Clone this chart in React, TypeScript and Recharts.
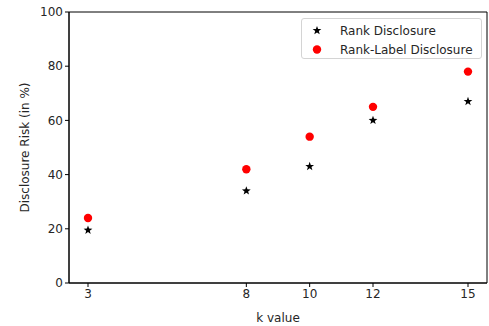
import React from "react";
import {
  ScatterChart,
  Scatter,
  XAxis,
  YAxis,
  ReferenceArea,
  Legend,
} from "recharts";

// k values on the x axis
const kValues = [3, 8, 10, 12, 15];
// Disclosure risk (%) per k
const rankDisclosure = [19.5, 34, 43, 60, 67];
const rankLabelDisclosure = [24, 42, 54, 65, 78];

const xTicks = [3, 8, 10, 12, 15];
const yTicks = [0, 20, 40, 60, 80, 100];

const rankData = kValues.map((k, i) => ({ k, risk: rankDisclosure[i] }));
const rankLabelData = kValues.map((k, i) => ({ k, risk: rankLabelDisclosure[i] }));

const FONT = "'DejaVu Sans', sans-serif";
const TEXT = "#262626";
const FS = 12;

function starPath(cx: number, cy: number, outer: number, inner: number) {
  const pts: string[] = [];
  for (let i = 0; i < 10; i++) {
    const r = i % 2 === 0 ? outer : inner;
    const a = -Math.PI / 2 + (i * Math.PI) / 5;
    pts.push(`${(cx + r * Math.cos(a)).toFixed(2)},${(cy + r * Math.sin(a)).toFixed(2)}`);
  }
  return `M${pts.join("L")}Z`;
}

const StarShape = (props: any) => {
  const { cx, cy } = props;
  return <path d={starPath(cx, cy, 4.6, 1.9)} fill="#000" />;
};

const DotShape = (props: any) => {
  const { cx, cy } = props;
  return <circle cx={cx} cy={cy} r={4.2} fill="#ff0000" />;
};

const LegendBox = () => (
  <div
    style={{
      width: 181,
      height: 41,
      boxSizing: "border-box",
      border: "1px solid #d4d4d4",
      borderRadius: 3,
      background: "rgba(255,255,255,0.8)",
      fontFamily: FONT,
      fontSize: FS,
      color: TEXT,
      padding: "2px 0 0 0",
      textAlign: "left",
    }}
  >
    <div style={{ display: "flex", alignItems: "center", height: 19 }}>
      <svg width={38} height={19}>
        <path d={starPath(15, 9.5, 4.6, 1.9)} fill="#000" />
      </svg>
      <span>Rank Disclosure</span>
    </div>
    <div style={{ display: "flex", alignItems: "center", height: 19 }}>
      <svg width={38} height={19}>
        <circle cx={15} cy={9.5} r={4.2} fill="#ff0000" />
      </svg>
      <span>Rank-Label Disclosure</span>
    </div>
  </div>
);

export default function App() {
  return (
    <div style={{ position: "absolute", left: 0, top: 0, width: 489, height: 326, background: "#fff" }}>
      <ScatterChart
        width={489}
        height={326}
        margin={{ top: 12, right: 2, bottom: 0, left: 0 }}
      >
        <ReferenceArea
          x1={2.4}
          x2={15.6}
          y1={0}
          y2={100}
          fill="none"
          stroke="#000"
          strokeWidth={1}
          ifOverflow="extendDomain"
        />
        <XAxis
          type="number"
          dataKey="k"
          domain={[2.4, 15.6]}
          ticks={xTicks}
          height={43}
          tickSize={4}
          tickLine={{ stroke: "#000" }}
          axisLine={{ stroke: "#000" }}
          tick={{ fontFamily: FONT, fontSize: FS, fill: TEXT }}
          label={{
            value: "k value",
            position: "insideBottom",
            offset: 4,
            style: { fontFamily: FONT, fontSize: FS, fill: TEXT },
          }}
        />
        <YAxis
          type="number"
          dataKey="risk"
          domain={[0, 100]}
          ticks={yTicks}
          width={69}
          tickSize={4}
          tickLine={{ stroke: "#000" }}
          axisLine={{ stroke: "#000" }}
          tick={{ fontFamily: FONT, fontSize: FS, fill: TEXT }}
          label={{
            value: "Disclosure Risk (in %)",
            angle: -90,
            position: "insideLeft",
            offset: 25,
            style: { fontFamily: FONT, fontSize: FS, fill: TEXT, textAnchor: "middle" },
          }}
        />
        <Legend
          layout="horizontal"
          verticalAlign="middle"
          align="center"
          wrapperStyle={{ top: 18, left: 301, width: 181 }}
          content={() => <LegendBox />}
        />
        <Scatter
          name="Rank Disclosure"
          data={rankData}
          shape={StarShape}
          isAnimationActive={false}
        />
        <Scatter
          name="Rank-Label Disclosure"
          data={rankLabelData}
          shape={DotShape}
          isAnimationActive={false}
        />
      </ScatterChart>
    </div>
  );
}
